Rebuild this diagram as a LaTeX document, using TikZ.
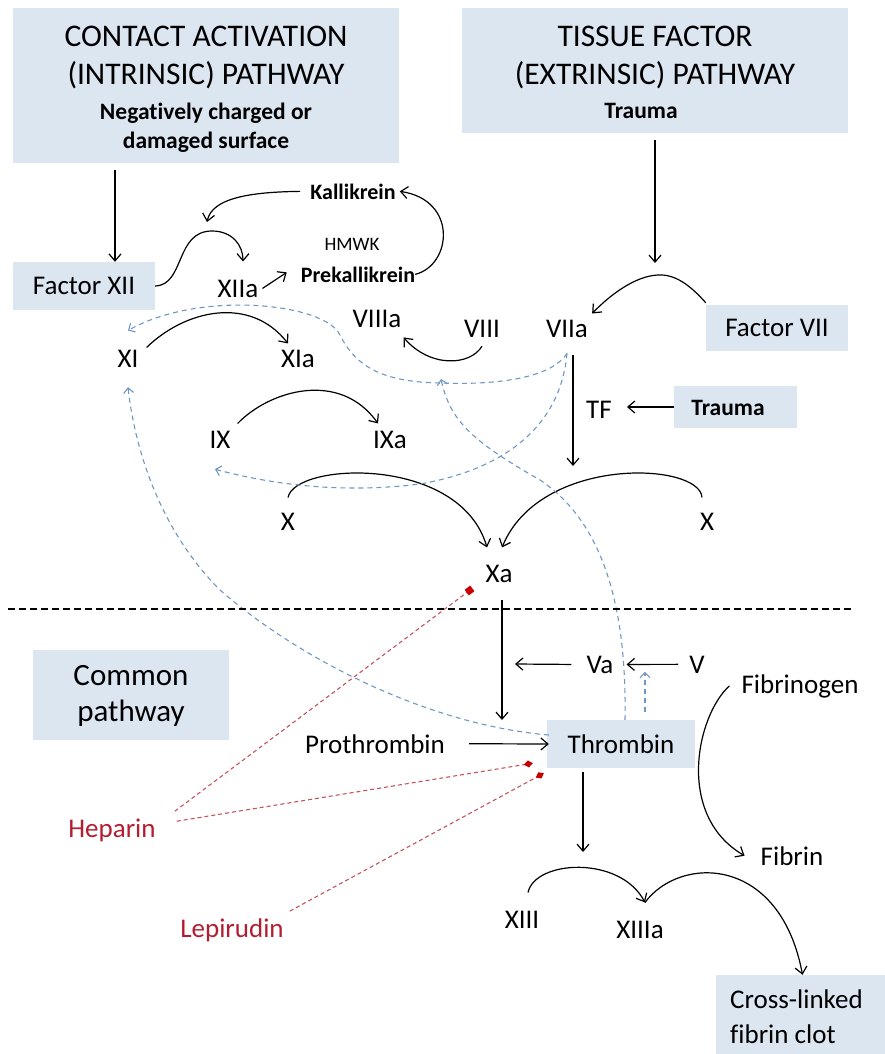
\documentclass[tikz,border=0pt]{standalone}
\usepackage{fontspec}
\setmainfont[Ligatures=NoCommon]{Carlito}
\usetikzlibrary{arrows.meta}

\definecolor{boxblue}{RGB}{220,230,241}
\definecolor{actblue}{RGB}{112,150,196}
\definecolor{inhred}{RGB}{196,84,92}
\definecolor{drugred}{RGB}{178,30,48}
\definecolor{tipred}{RGB}{200,0,0}

\tikzset{
	lbl/.style={inner sep=2pt, font=\fontsize{27}{30}\selectfont},
	hdr/.style={inner sep=2pt, font=\fontsize{31.5}{36}\selectfont},
	sub/.style={inner sep=2pt, font=\fontsize{23.5}{28}\selectfont\bfseries},
	kal/.style={inner sep=2pt, font=\fontsize{22}{26}\selectfont\bfseries},
	tiny/.style={inner sep=2pt, font=\fontsize{19}{22}\selectfont},
	big/.style={inner sep=2pt, font=\fontsize{31}{36}\selectfont},
	drug/.style={lbl, text=drugred},
	boxfill/.style={fill=boxblue, inner sep=0pt},
	rx/.style={line width=1.2pt, -{Straight Barb[length=7pt,width=12pt]}},
	act/.style={draw=actblue, line width=1.1pt, dash pattern=on 5pt off 4pt, -{Straight Barb[length=5pt,width=10pt]}},
	inh/.style={draw=inhred, line width=1.1pt, dash pattern=on 4pt off 3pt},
	sep/.style={line width=1.2pt, dash pattern=on 7pt off 4pt}
}

\begin{document}
\begin{tikzpicture}[x=1pt,y=-1pt]
			\useasboundingbox (0,0) rectangle (885,1054);
			
			%%%%% PATHWAY HEADERS %%%%%
			
			\node[boxfill, minimum width=386pt, minimum height=155pt] (cab) at (206,85.5) {};
			\node[hdr, anchor=base] (cab1) at (206,47) {CONTACT ACTIVATION};
			\node[hdr, anchor=base] (cab2) at (206,85) {(INTRINSIC) PATHWAY};
			\node[sub, anchor=base] (cab3) at (206,120) {Negatively charged or};
			\node[sub, anchor=base] (cab4) at (206,149) {damaged surface};
			
			\node[boxfill, minimum width=386pt, minimum height=125pt] (tfb) at (655,70.5) {};
			\node[hdr, anchor=base] (tfb1) at (655,47) {TISSUE FACTOR};
			\node[hdr, anchor=base] (tfb2) at (655,85) {(EXTRINSIC) PATHWAY};
			\node[sub, anchor=base] (tfb3) at (641,118) {Trauma};
			
			%%%%% FACTORS %%%%%
			
			\node[boxfill, lbl, minimum width=142pt, minimum height=48pt] (fxii) at (84,286) {Factor XII};
			\node[lbl, anchor=base] (xiia) at (238,297) {XIIa};
			\node[kal, anchor=base] (kal) at (353,199) {Kallikrein};
			\node[tiny, anchor=base] (hmwk) at (352,250) {HMWK};
			\node[kal, anchor=base] (prek) at (358,282) {Prekallikrein};
			
			\node[lbl, anchor=base] (xi) at (128,367) {XI};
			\node[lbl, anchor=base] (xia) at (298,367) {XIa};
			\node[lbl, anchor=base] (ix) at (220,448) {IX};
			\node[lbl, anchor=base] (ixa) at (390,448) {IXa};
			\node[lbl, anchor=base] (viiia) at (377,327) {VIIIa};
			\node[lbl, anchor=base] (viii) at (482,337) {VIII};
			
			\node[lbl, anchor=base] (viia) at (567,337) {VIIa};
			\node[boxfill, lbl, minimum width=142pt, minimum height=46pt] (fvii) at (777,328) {Factor VII};
			\node[lbl, anchor=base] (tf) at (599,418) {TF};
			\node[boxfill, minimum width=123pt, minimum height=42pt] (trb) at (735.5,407) {};
			\node[sub, anchor=base] (trauma) at (728,415) {Trauma};
			
			\node[lbl, anchor=base] (xl) at (288,530) {X};
			\node[lbl, anchor=base] (xr) at (707,530) {X};
			\node[lbl, anchor=base] (xa) at (499,582) {Xa};
			
			%%%%% COMMON PATHWAY %%%%%
			
			\node[boxfill, minimum width=196pt, minimum height=90pt] (cpb) at (131,695) {};
			\node[big, anchor=base] (cp1) at (131,685) {Common};
			\node[big, anchor=base] (cp2) at (131,721) {pathway};
			
			\node[lbl, anchor=base] (va) at (600,673) {Va};
			\node[lbl, anchor=base] (v) at (697,673) {V};
			\node[lbl, anchor=base] (proth) at (375,753) {Prothrombin};
			\node[boxfill, lbl, minimum width=148pt, minimum height=48pt] (thr) at (621,744) {Thrombin};
			\node[lbl, anchor=base] (fgen) at (800,693) {Fibrinogen};
			\node[lbl, anchor=base] (fib) at (792,865) {Fibrin};
			\node[lbl, anchor=base] (xiii) at (522,928) {XIII};
			\node[lbl, anchor=base] (xiiia) at (640,938) {XIIIa};
			\node[boxfill, minimum width=169pt, minimum height=79pt] (clot) at (800.5,1014.5) {};
			\node[lbl, anchor=base west] (clot1) at (728,1008) {Cross-linked};
			\node[lbl, anchor=base west] (clot2) at (728,1043) {fibrin clot};
			
			\node[drug, anchor=base] (hep) at (112,837) {Heparin};
			\node[drug, anchor=base] (lep) at (232,937) {Lepirudin};
			
			%%%%% FREE ENDS %%%%%
			
			\coordinate (pk7) at (655,263);
			\coordinate (pk12) at (207,222);
			\coordinate (pkx) at (573,466);
			\coordinate (xaend) at (502,720);
			\coordinate (vaend) at (515,664);
			\coordinate (pk13) at (583,852);
			\coordinate (a8) at (441,379);
			\coordinate (d7) at ([yshift=-14pt]viia.south);
			\coordinate (t13) at ([xshift=5pt,yshift=16pt]xiiia.north);
			
			%%%%% REACTIONS %%%%%
			
			\draw[rx] ([xshift=-91pt,yshift=-7pt]cab.south) -- ([xshift=31pt]fxii.north);
			\draw[rx] ([yshift=-7pt]tfb.south) -- (pk7);
			
			\draw[rx] (fxii.east) .. controls (185,285) and (175,231) .. (212,231) .. controls (232,231) and (243,245) .. ([xshift=5pt,yshift=16pt]xiia.north);
			\draw[rx] ([xshift=-8pt]kal.west) .. controls (250,192) and (212,198) .. (pk12);
			\draw[rx] ([xshift=2pt]xiia.east) -- ([xshift=-12pt,yshift=2pt]prek.west);
			\draw[rx] ([xshift=-2pt]prek.east) .. controls (452,265) and (458,200) .. ([xshift=2pt]kal.east);
			
			\draw[rx] ([yshift=2pt]fvii.north west) .. controls (690,285) and (675,274) .. (658,275) .. controls (635,276) and (610,295) .. ([xshift=2pt,yshift=4pt]viia.north east);
			\draw[rx] ([yshift=-7pt]viii.south) .. controls (470,366) and (430,368) .. ([yshift=-8pt]viiia.south east);
			\draw[rx] ([xshift=6pt]xi.north east) .. controls (185,310) and (250,295) .. ([xshift=-10pt,yshift=4pt]xia.north);
			\draw[rx] ([xshift=5pt,yshift=5pt]ix.north east) .. controls (270,390) and (340,370) .. ([xshift=-12pt,yshift=5pt]ixa.north);
			
			\draw[rx] ([xshift=6pt,yshift=-16pt]viia.south) -- (pkx);
			\draw[rx] (trb.west) -- ([xshift=13pt]tf.east |- trb.west);
			
			\draw[rx] ([yshift=13pt]xl.north) .. controls (295,462) and (460,455) .. ([xshift=-12pt,yshift=15pt]xa.north);
			\draw[rx] ([xshift=-5pt,yshift=13pt]xr.north) .. controls (700,462) and (540,455) .. ([xshift=3pt,yshift=15pt]xa.north);
			
			\draw[rx] ([xshift=3pt,yshift=-16pt]xa.south) -- (xaend);
			\draw[rx] ([xshift=-9pt]v.west) -- ([xshift=11pt]va.east);
			\draw[rx] ([xshift=-13pt]va.west) -- (vaend);
			\draw[rx] ([xshift=22pt]proth.east) -- ([xshift=2pt]thr.west);
			
			\draw[rx] ([xshift=-38pt,yshift=-4pt]thr.south) -- (pk13);
			\draw[rx] ([xshift=-10pt]fgen.west) .. controls (697,715) and (675,815) .. ([xshift=-14pt]fib.west);
			\draw[rx] ([xshift=6pt,yshift=16pt]xiii.north) .. controls (535,860) and (620,855) .. (t13);
			\draw[rx] (t13) .. controls (680,855) and (780,855) .. ([xshift=2pt]clot.north);
			
			%%%%% FEEDBACK %%%%%
			
			\draw[act] (d7) .. controls (550,380) and (490,385) .. (440,383) .. controls (380,382) and (355,365) .. (340,335) .. controls (325,303) and (200,290) .. ([yshift=17pt]xi.north);
			\draw[act] (d7) .. controls (560,430) and (500,470) .. (420,484) .. controls (340,494) and (270,484) .. ([xshift=-5pt,yshift=-19pt]ix.south);
			\draw[act] ([xshift=4pt]thr.north) .. controls (627,600) and (600,520) .. (540,480) .. controls (470,440) and (450,420) .. (a8);
			\draw[act] ([xshift=2pt,yshift=9pt]thr.west) .. controls (430,725) and (300,660) .. (220,590) .. controls (160,530) and (135,450) .. ([yshift=-18pt]xi.south);
			\draw[act] ([xshift=24pt,yshift=8pt]thr.north) -- ([xshift=24pt,yshift=48pt]thr.north);
			
			%%%%% INHIBITORS %%%%%
			
			\draw[inh, -{Square[length=7pt,width=7pt,color=tipred]}] ([xshift=17pt,yshift=5pt]hep.north east) -- ([xshift=-11pt,yshift=-4pt]xa.south west);
			\draw[inh, -{Diamond[length=9pt,width=7pt,color=tipred]}] ([xshift=19pt,yshift=-5pt]hep.north east) -- ([xshift=-14pt,yshift=5pt]thr.south west);
			\draw[inh, -{Diamond[length=9pt,width=7pt,color=tipred]}] ([xshift=4pt,yshift=5pt]lep.north east) -- ([xshift=-3pt,yshift=-5pt]thr.south west);
			
			\draw[sep] (8,609) -- (852,609);
			
\end{tikzpicture}
\end{document}
